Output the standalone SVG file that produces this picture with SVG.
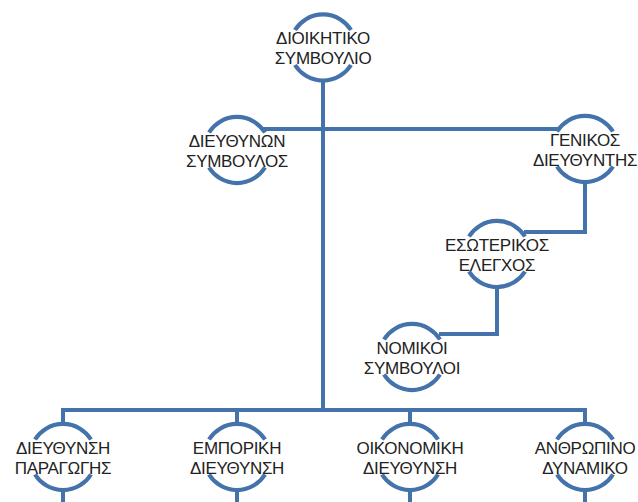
<svg xmlns="http://www.w3.org/2000/svg" xmlns:xlink="http://www.w3.org/1999/xlink" width="638" height="502" viewBox="0 0 638 502">
  <style>
    .arc { fill: none; stroke: #4472AA; stroke-width: 4.2; stroke-linecap: butt; }
    .wire { fill: none; stroke: #4472AA; stroke-width: 4; stroke-linejoin: miter; }
    .label { font-family: "Liberation Sans", Arial, sans-serif; font-size: 17px; letter-spacing: -0.3px; fill: #222222; text-anchor: middle; }
  </style>
  <defs>
    <!-- half-circle frame: upper and lower arcs around a centred label -->
    <path id="halfCircles" d="M-28,-17.5 A33,33 0 0 1 28,-17.5 M28,17.5 A33,33 0 0 1 -28,17.5"/>
  </defs>
  <rect width="638" height="502" fill="#ffffff"/>

  <g id="connectors">
    <path class="wire" d="M323,80.5 V410"/>
    <path class="wire" d="M263,129 H559"/>
    <path class="wire" d="M585,182 V232 H524"/>
    <path class="wire" d="M497,287 V334 H439"/>
    <path class="wire" d="M63,424 V410 H585 V424"/>
    <path class="wire" d="M237,410 V424"/>
    <path class="wire" d="M410,410 V424"/>
    <path class="wire" d="M63,490 V502 M237,490 V502 M410,490 V502 M585,490 V502"/>
  </g>

  <g id="node-board" transform="translate(323,47.5)">
    <use xlink:href="#halfCircles" class="arc"/>
    <text class="label" x="0" y="-3.5">ΔΙΟΙΚΗΤΙΚΟ</text>
    <text class="label" x="0" y="16.5">ΣΥΜΒΟΥΛΙΟ</text>
  </g>

  <g id="node-ceo" transform="translate(237,150)">
    <use xlink:href="#halfCircles" class="arc"/>
    <text class="label" x="0" y="-3.5">ΔΙΕΥΘΥΝΩΝ</text>
    <text class="label" x="0" y="16.5">ΣΥΜΒΟΥΛΟΣ</text>
  </g>

  <g id="node-gm" transform="translate(585,149)">
    <use xlink:href="#halfCircles" class="arc"/>
    <text class="label" x="0" y="-3.5">ΓΕΝΙΚΟΣ</text>
    <text class="label" x="0" y="16.5">ΔΙΕΥΘΥΝΤΗΣ</text>
  </g>

  <g id="node-audit" transform="translate(497,254)">
    <use xlink:href="#halfCircles" class="arc"/>
    <text class="label" x="0" y="-3.5">ΕΣΩΤΕΡΙΚΟΣ</text>
    <text class="label" x="0" y="16.5">ΕΛΕΓΧΟΣ</text>
  </g>

  <g id="node-legal" transform="translate(412,357)">
    <use xlink:href="#halfCircles" class="arc"/>
    <text class="label" x="0" y="-3.5">ΝΟΜΙΚΟΙ</text>
    <text class="label" x="0" y="16.5">ΣΥΜΒΟΥΛΟΙ</text>
  </g>

  <g id="node-production" transform="translate(63,457)">
    <use xlink:href="#halfCircles" class="arc"/>
    <text class="label" x="0" y="-3.5">ΔΙΕΥΘΥΝΣΗ</text>
    <text class="label" x="0" y="16.5">ΠΑΡΑΓΩΓΗΣ</text>
  </g>

  <g id="node-sales" transform="translate(237,457)">
    <use xlink:href="#halfCircles" class="arc"/>
    <text class="label" x="0" y="-3.5">ΕΜΠΟΡΙΚΗ</text>
    <text class="label" x="0" y="16.5">ΔΙΕΥΘΥΝΣΗ</text>
  </g>

  <g id="node-finance" transform="translate(410,457)">
    <use xlink:href="#halfCircles" class="arc"/>
    <text class="label" x="0" y="-3.5">ΟΙΚΟΝΟΜΙΚΗ</text>
    <text class="label" x="0" y="16.5">ΔΙΕΥΘΥΝΣΗ</text>
  </g>

  <g id="node-hr" transform="translate(585,457)">
    <use xlink:href="#halfCircles" class="arc"/>
    <text class="label" x="0" y="-3.5">ΑΝΘΡΩΠΙΝΟ</text>
    <text class="label" x="0" y="16.5">ΔΥΝΑΜΙΚΟ</text>
  </g>
</svg>
